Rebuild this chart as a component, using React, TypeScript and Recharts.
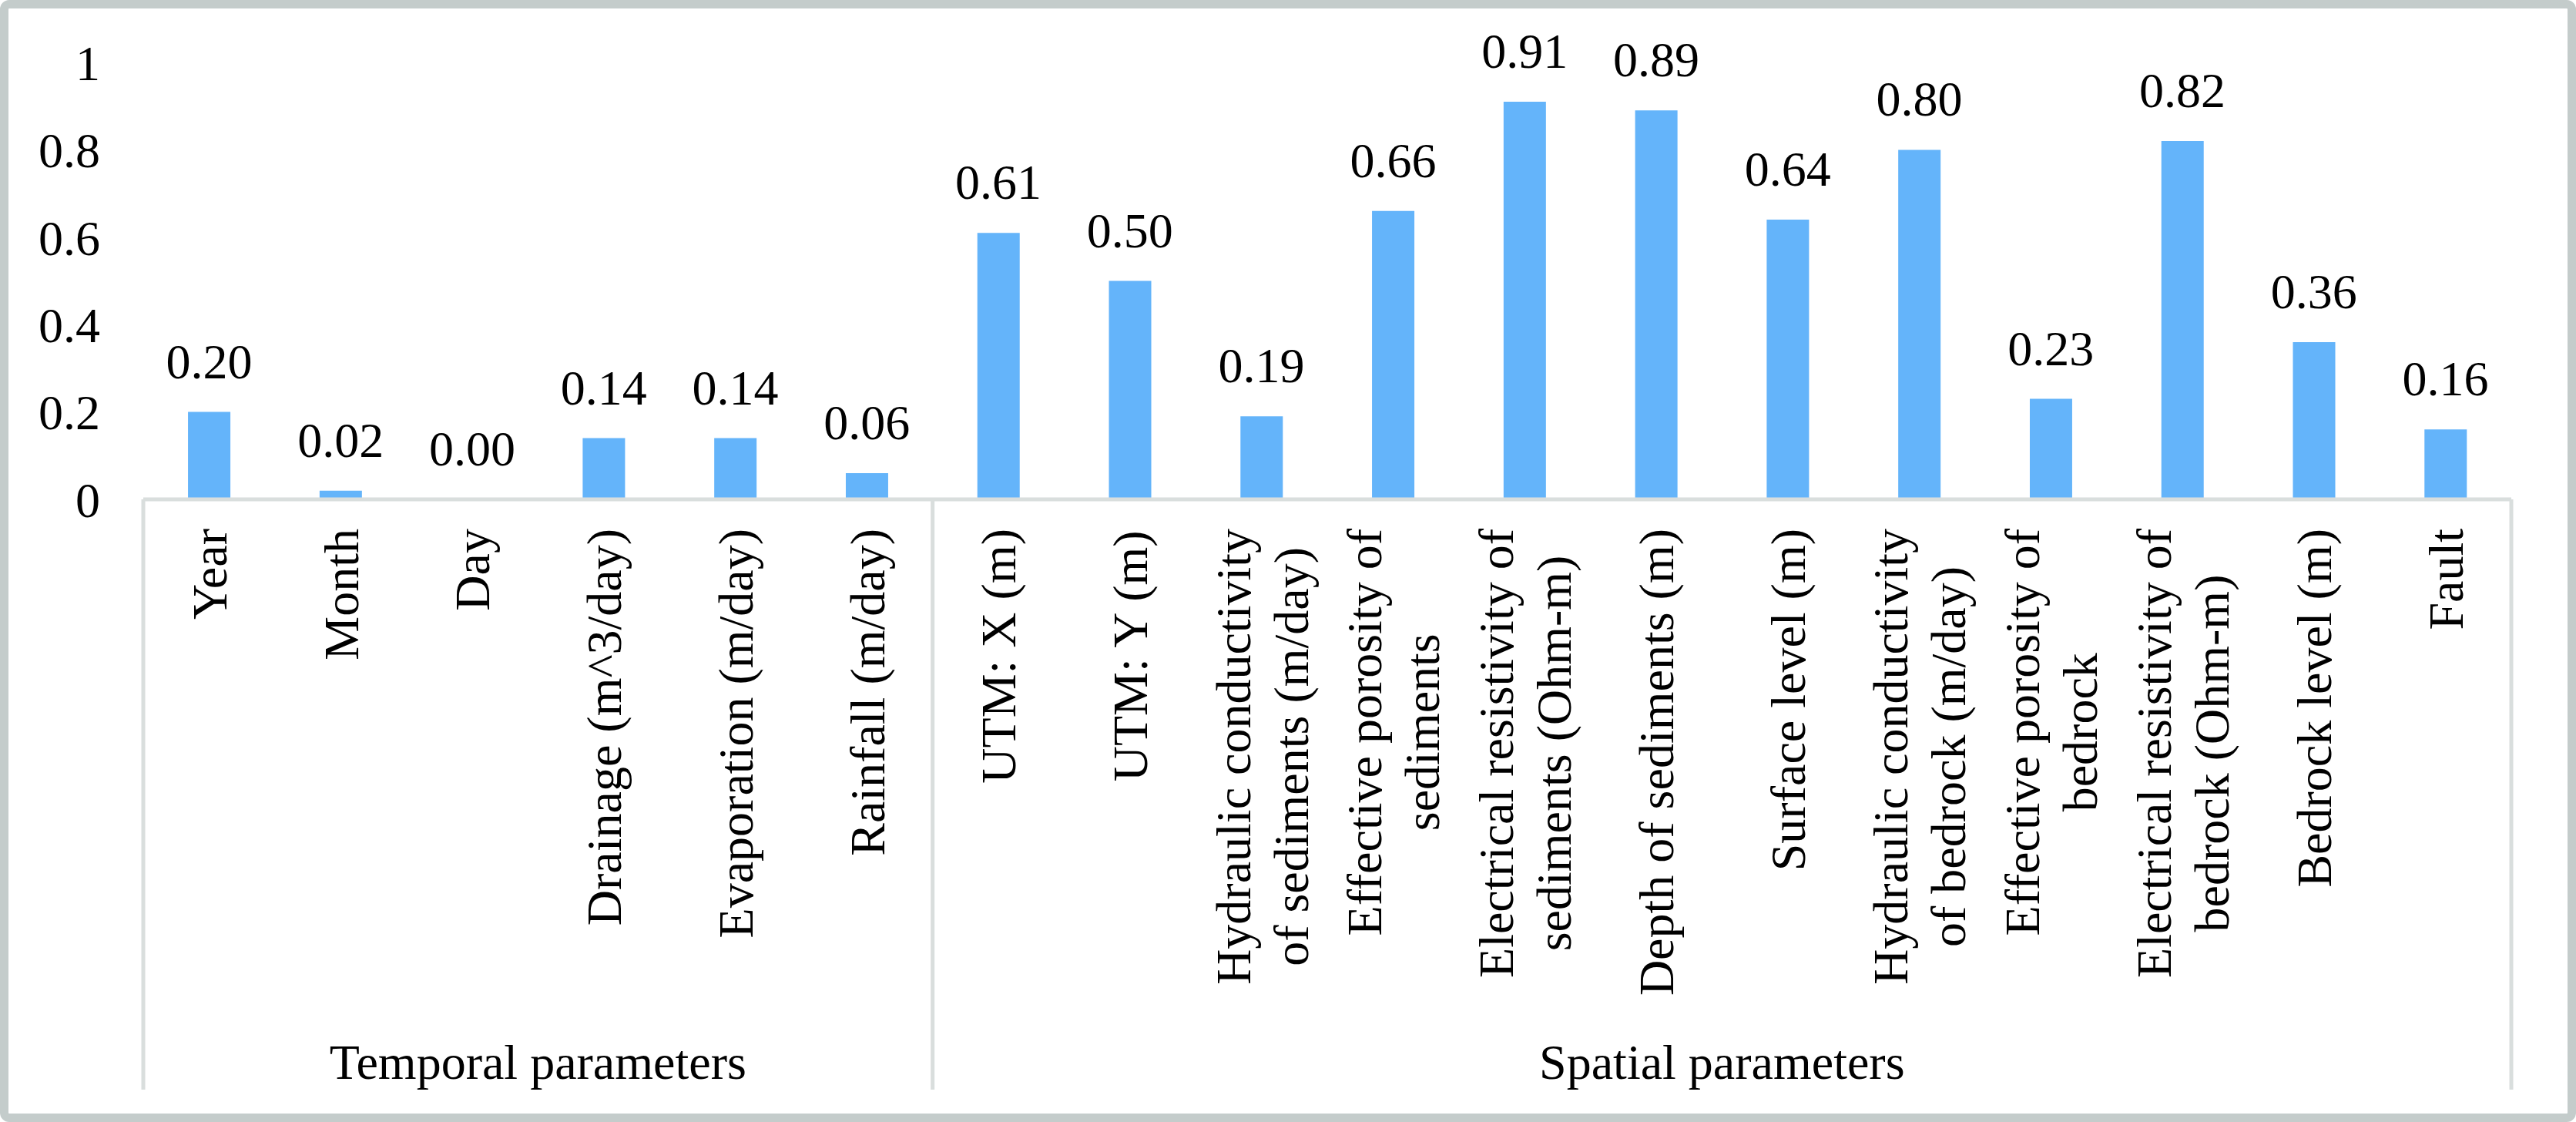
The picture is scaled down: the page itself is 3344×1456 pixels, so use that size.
import { Bar, ComposedChart, LabelList, Line, XAxis, YAxis } from "recharts"

const categories = [
  "Year",
  "Month",
  "Day",
  "Drainage (m^3/day)",
  "Evaporation (m/day)",
  "Rainfall (m/day)",
  "UTM: X (m)",
  "UTM: Y (m)",
  "Hydraulic conductivity\nof sediments (m/day)",
  "Effective porosity of\nsediments",
  "Electrical resistivity of\nsediments (Ohm-m)",
  "Depth of sediments (m)",
  "Surface level (m)",
  "Hydraulic conductivity\nof bedrock (m/day)",
  "Effective porosity of\nbedrock",
  "Electrical resistivity of\nbedrock (Ohm-m)",
  "Bedrock level (m)",
  "Fault",
]

const importance = [
  0.2, 0.02, 0.0, 0.14, 0.14, 0.06, 0.61, 0.5, 0.19, 0.66, 0.91, 0.89, 0.64, 0.8, 0.23,
  0.82, 0.36, 0.16,
]

const groupNames = ["Temporal parameters", "Spatial parameters"]
const groupSizes = [6, 12]

const yTicks = [0, 0.2, 0.4, 0.6, 0.8, 1]

const W = 3344
const H = 1456
const Y_AXIS_W = 186
const X_AXIS_H = 808
const MARGIN = { top: 81, right: 84, left: 0, bottom: 0 }
const FONT = "'Liberation Serif', 'Times New Roman', serif"
const FONT_SIZE = 64
const LINE_H = 75
const AXIS_GRAY = "#d9dedd"

const data = categories.map((name, i) => ({ name, value: importance[i] }))

const groupStarts = groupSizes.map((_, g) =>
  groupSizes.slice(0, g).reduce((a, b) => a + b, 0)
)

let measureCtx: CanvasRenderingContext2D | null = null
function textWidth(text: string) {
  if (!measureCtx) measureCtx = document.createElement("canvas").getContext("2d")
  if (!measureCtx) return text.length * FONT_SIZE * 0.45
  measureCtx.font = `${FONT_SIZE}px 'Liberation Serif'`
  return measureCtx.measureText(text).width
}

function CategoryTick(props: any) {
  const { x, y, payload } = props
  const idx = categories.indexOf(payload.value)
  const band = (W - Y_AXIS_W - MARGIN.right) / categories.length
  const lines = String(payload.value).split("\n")
  const blockW = Math.max(...lines.map(textWidth))
  const left = x - band / 2
  const g = groupStarts.indexOf(idx)
  const isLast = idx === categories.length - 1

  return (
    <g>
      {/* rotated block: longest line ends near the axis, shorter lines centred on it */}
      <text
        transform={`translate(${x},${y + 38}) rotate(-90)`}
        textAnchor="middle"
        fontFamily={FONT}
        fontSize={FONT_SIZE}
        fill="#000"
      >
        {lines.map((line, i) => (
          <tspan
            key={i}
            x={-blockW / 2}
            y={(i - (lines.length - 1) / 2) * LINE_H}
            dy="0.35em"
          >
            {line}
          </tspan>
        ))}
      </text>
      {g >= 0 && (
        <>
          <line x1={left} x2={left} y1={y} y2={y + 766} stroke={AXIS_GRAY} strokeWidth={5} />
          <text
            x={left + (groupSizes[g] * band) / 2}
            y={y + 730}
            dy="0.35em"
            textAnchor="middle"
            fontFamily={FONT}
            fontSize={FONT_SIZE}
            fill="#000"
          >
            {groupNames[g]}
          </text>
        </>
      )}
      {isLast && (
        <line
          x1={left + band}
          x2={left + band}
          y1={y}
          y2={y + 766}
          stroke={AXIS_GRAY}
          strokeWidth={5}
        />
      )}
    </g>
  )
}

export default function App() {
  return (
    <div style={{ position: "absolute", left: 0, top: 0, width: W, height: H, background: "#fff" }}>
      <ComposedChart width={W} height={H} data={data} margin={MARGIN} barCategoryGap="34%">
        <XAxis
          dataKey="name"
          interval={0}
          height={X_AXIS_H}
          tickLine={false}
          tickSize={0}
          tickMargin={0}
          axisLine={{ stroke: AXIS_GRAY, strokeWidth: 5 }}
          tick={<CategoryTick />}
        />
        <YAxis
          width={Y_AXIS_W}
          domain={[0, 1]}
          ticks={yTicks}
          axisLine={false}
          tickLine={false}
          tickSize={0}
          tickMargin={56}
          tick={{ fontFamily: FONT, fontSize: FONT_SIZE, fill: "#000" }}
        />
        <Bar dataKey="value" fill="#64b4fa" isAnimationActive={false} />
        {/* invisible line only carries the value labels, so the 0.00 label is drawn too */}
        <Line
          dataKey="value"
          stroke="none"
          dot={false}
          activeDot={false}
          isAnimationActive={false}
        >
          <LabelList
            dataKey="value"
            position="top"
            offset={44}
            formatter={(v: any) => Number(v).toFixed(2)}
            style={{ fontFamily: FONT, fontSize: FONT_SIZE, fill: "#000" }}
          />
        </Line>
      </ComposedChart>
      <div
        style={{
          position: "absolute",
          inset: 0,
          border: "11px solid #c4cccb",
          borderRadius: 12,
          boxSizing: "border-box",
          pointerEvents: "none",
        }}
      />
    </div>
  )
}
